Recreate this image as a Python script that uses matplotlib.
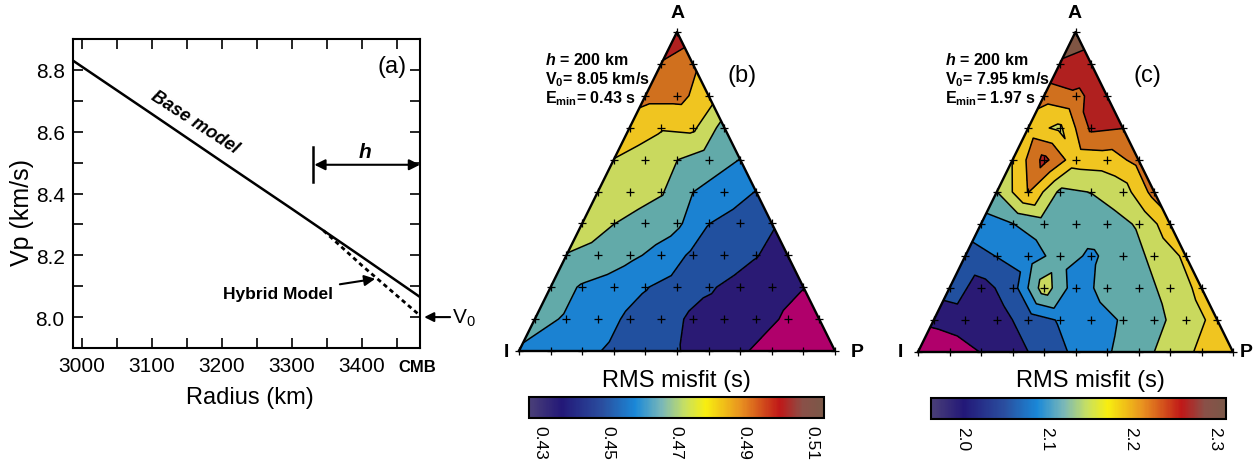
import numpy as np
import matplotlib
matplotlib.use('Agg')
import matplotlib.pyplot as plt
import matplotlib.tri as mtri
from matplotlib.colors import LinearSegmentedColormap, Normalize
from matplotlib.cm import ScalarMappable

plt.rcParams['font.family'] = ['Liberation Sans', 'DejaVu Sans']
plt.rcParams['mathtext.fontset'] = 'custom'
plt.rcParams['mathtext.rm'] = 'Liberation Sans'
plt.rcParams['mathtext.it'] = 'Liberation Sans:italic:bold'
plt.rcParams['mathtext.bf'] = 'Liberation Sans:bold'

# ---------------- panel (a) data ----------------
radius_base = [2987, 3100, 3200, 3300, 3400, 3483]
vp_base = [8.83, 8.657, 8.503, 8.35, 8.195, 8.065]
radius_hybrid = [3345, 3400, 3483]
vp_hybrid = [8.28, 8.167, 8.005]
xticks_a = [3000, 3100, 3200, 3300, 3400]
yticks_a = [8.0, 8.2, 8.4, 8.6, 8.8]

# ---------------- ternary misfit grids ----------------
# rows from the I-P base (row 0) up to apex A (row 10); left to right
misfit_b_rows = [
    [0.459, 0.455, 0.453, 0.448, 0.445, 0.4405, 0.436, 0.4315, 0.426, 0.424, 0.424],
    [0.463, 0.459, 0.455, 0.448, 0.445, 0.438, 0.436, 0.434, 0.4285, 0.426],
    [0.465, 0.459, 0.456, 0.4505, 0.446, 0.441, 0.437, 0.434, 0.4302],
    [0.4695, 0.466, 0.462, 0.457, 0.448, 0.445, 0.4405, 0.435],
    [0.476, 0.4702, 0.466, 0.462, 0.4502, 0.446, 0.441],
    [0.476, 0.475, 0.471, 0.4602, 0.455, 0.4498],
    [0.4798, 0.476, 0.4702, 0.465, 0.4598],
    [0.485, 0.481, 0.482, 0.466],
    [0.493, 0.493, 0.485],
    [0.499, 0.4915],
    [0.508],
]
misfit_c_rows = [
    [1.962, 1.970, 1.991, 2.014, 2.046, 2.078, 2.106, 2.134, 2.166, 2.198, 2.210],
    [1.998, 2.010, 2.014, 2.046, 2.074, 2.090, 2.114, 2.138, 2.170, 2.202],
    [2.050, 2.014, 2.050, 2.172, 2.088, 2.126, 2.134, 2.162, 2.202],
    [2.054, 2.071, 2.090, 2.126, 2.104, 2.130, 2.158, 2.198],
    [2.090, 2.109, 2.130, 2.130, 2.134, 2.154, 2.215],
    [2.149, 2.232, 2.142, 2.151, 2.170, 2.245],
    [2.191, 2.282, 2.206, 2.210, 2.242],
    [2.206, 2.182, 2.278, 2.271],
    [2.246, 2.262, 2.290],
    [2.306, 2.294],
    [2.330],
]
levels_b = [0.42, 0.43, 0.44, 0.45, 0.46, 0.47, 0.48, 0.49, 0.50, 0.51, 0.52]
levels_c = [1.95, 1.99, 2.03, 2.07, 2.11, 2.15, 2.19, 2.23, 2.27, 2.31, 2.35]
band_colors = ['#b0006b', '#2a1a74', '#21509f', '#1b82d2', '#62aaa9',
               '#c9d95e', '#f0c520', '#d0701e', '#b0201f', '#7f5543']

cbar_ticks_b = [0.43, 0.45, 0.47, 0.49, 0.51]
cbar_labels_b = ['0.43', '0.45', '0.47', '0.49', '0.51']
cbar_range_b = (0.4268, 0.5135)
cbar_ticks_c = [2.0, 2.1, 2.2, 2.3]
cbar_labels_c = ['2.0', '2.1', '2.2', '2.3']
cbar_range_c = (1.963, 2.313)

bar_cmap = LinearSegmentedColormap.from_list('misfit', [
    (0.00, '#4a3f78'), (0.11, '#231878'), (0.25, '#2a4fa0'), (0.36, '#1a88d8'),
    (0.45, '#7ab8b8'), (0.53, '#c8e060'), (0.60, '#f8ee10'), (0.72, '#e89020'),
    (0.85, '#c01818'), (0.93, '#8a5048'), (1.00, '#7a5848')])

W, H = 1254, 464
fig = plt.figure(figsize=(W / 100, H / 100), dpi=100)


def rect(x0, y0, x1, y1):
    return [x0 / W, 1 - y1 / H, (x1 - x0) / W, (y1 - y0) / H]


def fxy(x, y):
    return x / W, 1 - y / H


# ---------------- panel (a) ----------------
ax = fig.add_axes(rect(73, 40, 420, 349))
ax.plot(radius_base, vp_base, color='k', lw=1.8, solid_capstyle='butt')
ax.plot(radius_hybrid, vp_hybrid, color='k', lw=2.0, ls=(0, (1.6, 1.3)))
ax.set_xlim(2987, 3483)
ax.set_ylim(7.9, 8.9)
ax.set_xticks(xticks_a)
ax.set_xticks([3050, 3150, 3250, 3350, 3450], minor=True)
ax.set_yticks(yticks_a)
ax.set_yticks([8.1, 8.3, 8.5, 8.7], minor=True)
ax.set_yticklabels([f'{v:.1f}' for v in yticks_a])
ax.tick_params(which='both', direction='in', top=True, right=True, length=7,
               width=1.2, labelsize=15, pad=6)
for s in ax.spines.values():
    s.set_linewidth(1.5)

ax.text(3161, 8.632, 'Base model', rotation=-33, rotation_mode='anchor',
        ha='center', va='center', fontsize=13, fontweight='bold', fontstyle='italic')
ax.text(3443, 8.813, '(a)', ha='center', va='center', fontsize=17)
ax.plot([3330, 3330], [8.437, 8.55], color='k', lw=1.8)
ax.annotate('', xy=(3332, 8.493), xytext=(3483, 8.493),
            arrowprops=dict(arrowstyle='<|-|>', color='k', lw=1.5,
                            mutation_scale=16, shrinkA=0, shrinkB=0))
ax.text(3404, 8.535, r'$\mathit{h}$', ha='center', va='center', fontsize=15)
ax.annotate('Hybrid Model', xy=(3419, 8.124), xytext=(3280, 8.075),
            ha='center', va='center', fontsize=12.5, fontweight='bold',
            arrowprops=dict(arrowstyle='-|>', color='k', lw=1.5,
                            mutation_scale=16, shrinkA=3, shrinkB=0))
ax.annotate('', xy=(3489, 8.0), xytext=(3526, 8.0), annotation_clip=False,
            arrowprops=dict(arrowstyle='-|>', color='k', lw=1.5,
                            mutation_scale=14, shrinkA=0, shrinkB=0))
ax.text(3529, 8.0, r'V$_\mathregular{0}$', ha='left', va='center', fontsize=15,
        clip_on=False)
fig.text(*fxy(417, 368), 'CMB', ha='center', va='center', fontsize=12,
         fontweight='bold')
fig.text(*fxy(250, 398), 'Radius (km)', ha='center', va='center', fontsize=17)
fig.text(*fxy(22, 212), 'Vp (km/s)', ha='center', va='center', fontsize=18,
         rotation=90)


# ---------------- ternary panels ----------------
def ternary(box, rows, levels):
    tax = fig.add_axes(rect(*box))
    tax.set_xlim(0, 1)
    tax.set_ylim(0, 1)
    tax.axis('off')
    n = len(rows) - 1
    xs, ys, zs = [], [], []
    for j, row in enumerate(rows):
        for i, v in enumerate(row):
            xs.append((i + j / 2) / n)
            ys.append(j / n)
            zs.append(v)
    tri = mtri.Triangulation(xs, ys)
    tax.tricontourf(tri, zs, levels=levels, colors=band_colors)
    tax.tricontour(tri, zs, levels=levels[1:-1], colors='k', linewidths=1.1)
    tax.plot([0, 1, 0.5, 0], [0, 0, 1, 0], color='k', lw=1.7, clip_on=False)
    tax.plot(xs, ys, '+', color='k', ms=6, mew=0.9, clip_on=False)
    return tax


def cbar(box, crange, ticks, labels):
    cax = fig.add_axes(rect(*box))
    sm = ScalarMappable(Normalize(*crange), bar_cmap)
    cb = fig.colorbar(sm, cax=cax, orientation='horizontal', ticks=ticks)
    cb.outline.set_linewidth(1.5)
    cax.set_xticklabels(labels, rotation=270, va='top', ha='center')
    cax.tick_params(length=0, labelsize=12.5, pad=5)


ternary((519, 33, 835, 352), misfit_b_rows, levels_b)
ternary((918, 33, 1233, 353), misfit_c_rows, levels_c)
cbar((529, 398, 824, 419), cbar_range_b, cbar_ticks_b, cbar_labels_b)
cbar((931, 399, 1226, 420), cbar_range_c, cbar_ticks_c, cbar_labels_c)

for cx in (676, 1090):
    fig.text(*fxy(cx, 381), 'RMS misfit (s)', ha='center', va='center', fontsize=17)

vkw = dict(ha='center', va='center', fontsize=14, fontweight='bold')
for (x, y, s) in [(678, 14, 'A'), (506, 353, 'I'), (857, 353, 'P'),
                  (1075, 14, 'A'), (900, 353, 'I'), (1246, 353, 'P')]:
    fig.text(*fxy(x, y), s, **vkw)

fig.text(*fxy(742, 76), '(b)', ha='center', va='center', fontsize=17)
fig.text(*fxy(1147, 76), '(c)', ha='center', va='center', fontsize=17)

ikw = dict(ha='left', va='center', fontsize=11.5, fontweight='bold')
for x0, v0, em in [(545, '8.05', '0.43'), (945, '7.95', '1.97')]:
    fig.text(*fxy(x0, 60), r'$\mathit{h}$ = 200 km', **ikw)
    fig.text(*fxy(x0, 80), r'V$_\mathregular{0}$= ' + v0 + ' km/s', **ikw)
    fig.text(*fxy(x0, 99), r'E$_\mathregular{min}$= ' + em + ' s', **ikw)

fig.savefig('out.png', dpi=100)
